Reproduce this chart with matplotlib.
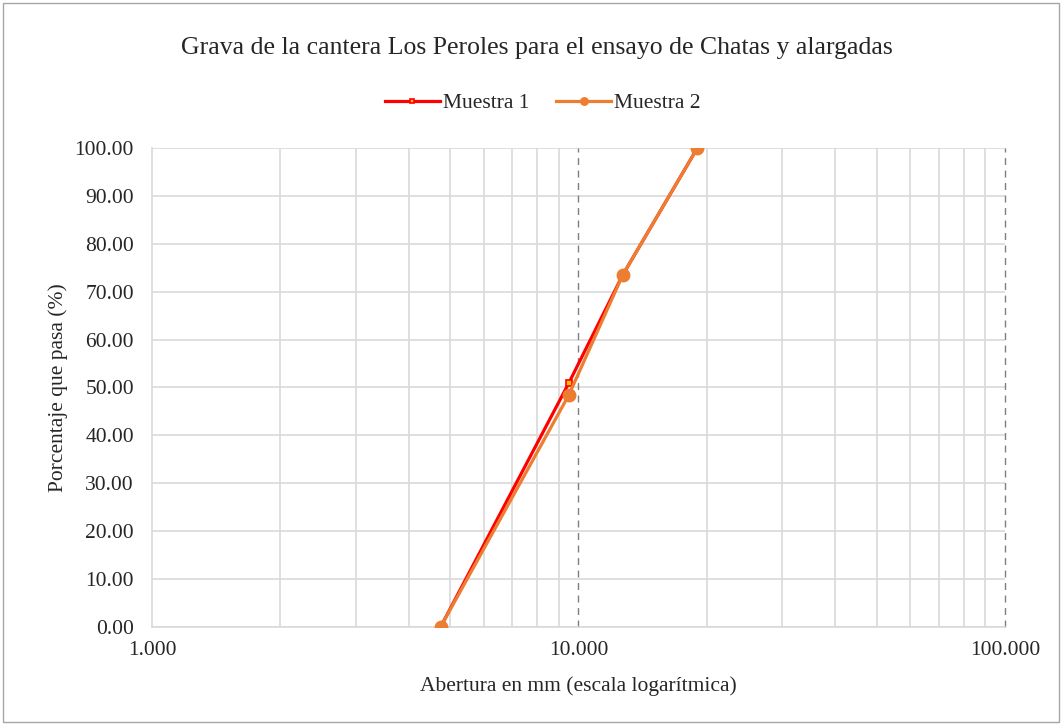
import matplotlib
matplotlib.use("Agg")
import matplotlib.pyplot as plt
from matplotlib.patches import Rectangle
from matplotlib.ticker import FixedLocator, NullFormatter, FuncFormatter

# Sieve openings (mm) and percentage passing
abertura = [4.75, 9.5, 12.7, 19.0]
muestra_1 = [0.0, 51.0, 73.5, 100.0]
muestra_2 = [0.0, 48.5, 73.5, 100.0]
y_ticks = [0, 10, 20, 30, 40, 50, 60, 70, 80, 90, 100]
x_major = [1, 10, 100]
x_minor = [2, 3, 4, 5, 6, 7, 8, 9, 20, 30, 40, 50, 60, 70, 80, 90]

plt.rcParams['font.family'] = ['Liberation Serif', 'DejaVu Serif']
TXT = '#262626'

fig = plt.figure(figsize=(10.64, 7.25), dpi=100)
ax = fig.add_axes([0.1429, 0.1352, 0.8016, 0.6607])

# outer chart frame
fig.patches.append(Rectangle((0.003, 0.004), 0.992, 0.992, transform=fig.transFigure,
                             fill=False, edgecolor='#a6a6a6', linewidth=1.0))

ax.set_xscale('log')
ax.set_xlim(1, 100)
ax.set_ylim(0, 100)

ax.xaxis.set_major_locator(FixedLocator(x_major))
ax.xaxis.set_minor_locator(FixedLocator(x_minor))
ax.xaxis.set_minor_formatter(NullFormatter())
ax.xaxis.set_major_formatter(FuncFormatter(lambda v, p: f"{v:.3f}"))
ax.yaxis.set_major_locator(FixedLocator(y_ticks))
ax.yaxis.set_major_formatter(FuncFormatter(lambda v, p: f"{v:.2f}"))

ax.grid(True, which='minor', axis='x', color='#d9d9d9', linewidth=1.2, linestyle='-')
ax.grid(True, which='major', axis='y', color='#d9d9d9', linewidth=1.2, linestyle='-')
# dashed decade lines
for xv in x_major[1:]:
    ax.axvline(xv, color='#7f7f7f', linewidth=1.0, linestyle=(0, (5, 4)), zorder=1,
               clip_on=False)
ax.set_axisbelow(True)

for s in ['top', 'right']:
    ax.spines[s].set_visible(False)
for s in ['left', 'bottom']:
    ax.spines[s].set_color('#d9d9d9')
    ax.spines[s].set_linewidth(1.2)

ax.tick_params(which='both', length=0, labelsize=15.5, colors=TXT)
ax.tick_params(axis='y', pad=13)
ax.tick_params(axis='x', pad=10)

ax.plot(abertura, muestra_1, color='#ff0000', linewidth=2.3, marker='s', markersize=5,
        markerfacecolor='#ffc000', markeredgecolor='#ff0000', markeredgewidth=1.2,
        label='Muestra 1', zorder=3)
ax.plot(abertura, muestra_2, color='#ed7d31', linewidth=2.3, marker='o', markersize=9,
        markerfacecolor='#ed7d31', markeredgecolor='#ed7d31',
        label='Muestra 2', zorder=4)

ax.set_xlabel('Abertura en mm (escala logarítmica)', fontsize=15.5, color=TXT, labelpad=12)
ax.set_ylabel('Porcentaje que pasa (%)', fontsize=15.5, color=TXT, labelpad=5)
fig.text(0.505, 0.934, 'Grava de la cantera Los Peroles para el ensayo de Chatas y alargadas',
         ha='center', va='center', fontsize=18.5, color=TXT)

leg = ax.legend(loc='center', bbox_to_anchor=(0.458, 1.093), ncol=2, frameon=False,
                fontsize=15.5, handlelength=2.55, columnspacing=1.25, handletextpad=0.15,
                markerscale=0.6)
for t in leg.get_texts():
    t.set_color(TXT)

fig.savefig('out.png', dpi=100)
